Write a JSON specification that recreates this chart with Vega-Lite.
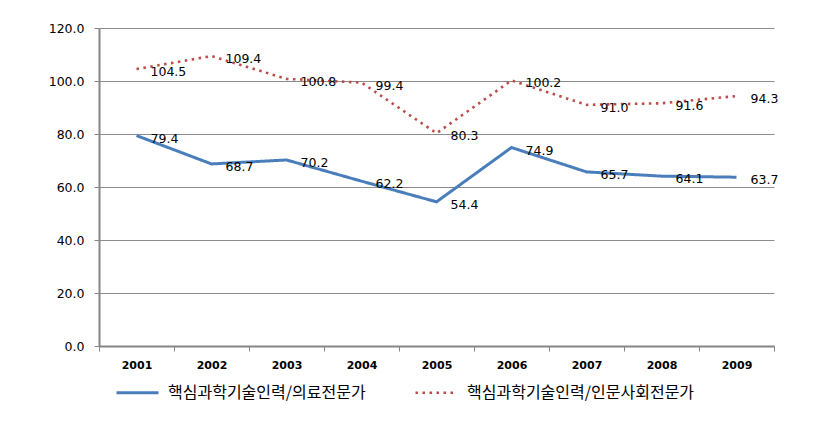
{
  "$schema": "https://vega.github.io/schema/vega-lite/v6.json",
  "width": 675,
  "height": 318,
  "autosize": "none",
  "padding": {"left": 99, "top": 28, "right": 56, "bottom": 76},
  "background": "white",
  "data": {"values": [
    {"year": "2001", "series": "핵심과학기술인력/의료전문가", "value": 79.4},
    {"year": "2002", "series": "핵심과학기술인력/의료전문가", "value": 68.7},
    {"year": "2003", "series": "핵심과학기술인력/의료전문가", "value": 70.2},
    {"year": "2004", "series": "핵심과학기술인력/의료전문가", "value": 62.2},
    {"year": "2005", "series": "핵심과학기술인력/의료전문가", "value": 54.4},
    {"year": "2006", "series": "핵심과학기술인력/의료전문가", "value": 74.9},
    {"year": "2007", "series": "핵심과학기술인력/의료전문가", "value": 65.7},
    {"year": "2008", "series": "핵심과학기술인력/의료전문가", "value": 64.1},
    {"year": "2009", "series": "핵심과학기술인력/의료전문가", "value": 63.7},
    {"year": "2001", "series": "핵심과학기술인력/인문사회전문가", "value": 104.5},
    {"year": "2002", "series": "핵심과학기술인력/인문사회전문가", "value": 109.4},
    {"year": "2003", "series": "핵심과학기술인력/인문사회전문가", "value": 100.8},
    {"year": "2004", "series": "핵심과학기술인력/인문사회전문가", "value": 99.4},
    {"year": "2005", "series": "핵심과학기술인력/인문사회전문가", "value": 80.3},
    {"year": "2006", "series": "핵심과학기술인력/인문사회전문가", "value": 100.2},
    {"year": "2007", "series": "핵심과학기술인력/인문사회전문가", "value": 91.0},
    {"year": "2008", "series": "핵심과학기술인력/인문사회전문가", "value": 91.6},
    {"year": "2009", "series": "핵심과학기술인력/인문사회전문가", "value": 94.3}
  ]},
  "encoding": {
    "x": {"field": "year", "type": "ordinal", "scale": {"type": "band", "paddingInner": 0, "paddingOuter": 0},
      "axis": {"title": null, "labelAngle": 0, "labelFont": "DejaVu Sans", "labelFontSize": 11, "labelFontWeight": "bold", "labelColor": "#000000", "labelPadding": 8,
        "domainColor": "#868686", "domainWidth": 2, "tickColor": "#868686", "tickSize": 5, "tickBand": "extent", "grid": false}},
    "y": {"field": "value", "type": "quantitative", "scale": {"domain": [0, 120], "nice": false},
      "axis": {"title": null, "values": [0, 20, 40, 60, 80, 100, 120], "format": ".1f", "labelFont": "DejaVu Sans", "labelFontSize": 12.5, "labelColor": "#000000", "labelPadding": 10,
        "domainColor": "#868686", "domainWidth": 2, "tickColor": "#868686", "tickSize": 5, "gridColor": "#8c8c8c", "gridWidth": 1}}
  },
  "layer": [
    {
      "mark": {"type": "line", "strokeCap": "butt"},
      "encoding": {
        "color": {"field": "series", "type": "nominal",
          "scale": {"domain": ["핵심과학기술인력/의료전문가", "핵심과학기술인력/인문사회전문가"], "range": ["#4A7EBB", "#BE4B48"]},
          "legend": {"title": null, "orient": "none", "legendX": 16, "legendY": 342, "direction": "horizontal", "columns": 2, "columnPadding": 44,
            "symbolType": "stroke", "symbolSize": 1764, "symbolStrokeWidth": 3, "labelFont": "Noto Sans CJK KR", "labelFontSize": 16, "labelColor": "#000000", "labelOffset": 8, "labelLimit": 400}},
        "strokeDash": {"field": "series", "type": "nominal",
          "scale": {"domain": ["핵심과학기술인력/의료전문가", "핵심과학기술인력/인문사회전문가"], "range": [[1, 0], [2.5, 4.5]]},
          "legend": null},
        "strokeWidth": {"field": "series", "type": "nominal",
          "scale": {"domain": ["핵심과학기술인력/의료전문가", "핵심과학기술인력/인문사회전문가"], "range": [3, 2.6]},
          "legend": null}
      }
    },
    {
      "mark": {"type": "text", "align": "left", "baseline": "middle", "dx": 14, "dy": 3, "font": "DejaVu Sans", "fontSize": 12.5, "color": "#000000"},
      "encoding": {"text": {"field": "value", "type": "quantitative", "format": ".1f"}}
    }
  ],
  "config": {"view": {"stroke": null}}
}
